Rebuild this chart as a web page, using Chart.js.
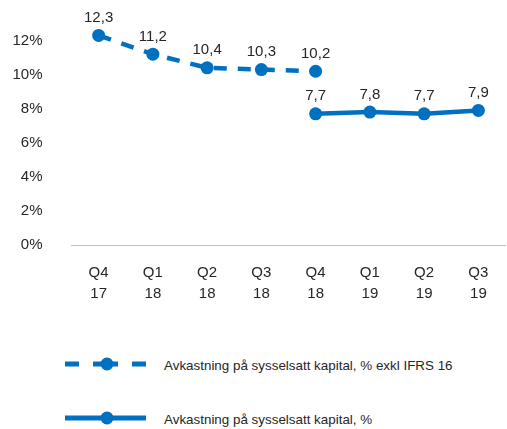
<!DOCTYPE html>
<html>
<head>
<meta charset="utf-8">
<script src="https://cdn.jsdelivr.net/npm/chart.js@4.4.0/dist/chart.umd.min.js"></script>
<style>
  html, body { margin: 0; padding: 0; background: #fff; overflow: hidden; width: 507px; height: 429px; }
  #wrap { position: relative; width: 512px; height: 320px; }
  .leg { position: absolute; left: 0; font-family: "Liberation Sans", Arial, sans-serif; font-size: 13.4px; line-height: 16px; color: #262626; }
  .leg svg { position: absolute; left: 60px; top: 0; }
  .leg span { position: absolute; left: 164px; top: 5.5px; white-space: nowrap; }
</style>
</head>
<body>
<div id="wrap"><canvas id="c" width="512" height="320"></canvas></div>
<div class="leg" style="top:352px;">
  <svg width="95" height="24"><line x1="5" y1="12" x2="86" y2="12" stroke="#0070C0" stroke-width="5" stroke-dasharray="14 14 25 14 14"/><circle cx="47" cy="12" r="6.5" fill="#0070C0"/></svg>
  <span>Avkastning på sysselsatt kapital, % exkl IFRS 16</span>
</div>
<div class="leg" style="top:406px;">
  <svg width="95" height="24"><line x1="5" y1="12" x2="86" y2="12" stroke="#0070C0" stroke-width="5"/><circle cx="47" cy="12" r="6.5" fill="#0070C0"/></svg>
  <span>Avkastning på sysselsatt kapital, %</span>
</div>
<script>
const categories = [["Q4","17"],["Q1","18"],["Q2","18"],["Q3","18"],["Q4","18"],["Q1","19"],["Q2","19"],["Q3","19"]];
const exklIfrs16 = [12.3, 11.2, 10.4, 10.3, 10.2, null, null, null];
const reported = [null, null, null, null, 7.7, 7.8, 7.7, 7.9];
const yMax = 14;
const yStep = 2;

const blue = "#0070C0";
const fontFamily = "'Liberation Sans', Arial, sans-serif";

const labelPlugin = {
  id: "valueLabels",
  afterDatasetsDraw(chart) {
    const ctx = chart.ctx;
    ctx.save();
    ctx.font = "15px " + fontFamily;
    ctx.fillStyle = "#262626";
    ctx.textAlign = "center";
    ctx.textBaseline = "middle";
    chart.data.datasets.forEach((ds, i) => {
      const meta = chart.getDatasetMeta(i);
      meta.data.forEach((pt, j) => {
        const v = ds.data[j];
        if (v === null || v === undefined) return;
        ctx.fillText(v.toFixed(1).replace(".", ","), pt.x, pt.y - 17.5);
      });
    });
    ctx.restore();
  }
};

new Chart(document.getElementById("c"), {
  type: "line",
  data: {
    labels: categories,
    datasets: [
      {
        label: "Avkastning på sysselsatt kapital, % exkl IFRS 16",
        data: exklIfrs16,
        borderColor: blue,
        backgroundColor: blue,
        borderWidth: 4.5,
        borderDash: [13, 11],
        pointRadius: 6.5,
        pointHoverRadius: 6.5,
        pointBackgroundColor: blue,
        pointBorderWidth: 0,
        tension: 0,
        spanGaps: false
      },
      {
        label: "Avkastning på sysselsatt kapital, %",
        data: reported,
        borderColor: blue,
        backgroundColor: blue,
        borderWidth: 4.5,
        pointRadius: 6.5,
        pointHoverRadius: 6.5,
        pointBackgroundColor: blue,
        pointBorderWidth: 0,
        tension: 0,
        spanGaps: false
      }
    ]
  },
  options: {
    responsive: false,
    animation: false,
    devicePixelRatio: 1,
    layout: { padding: { top: 5, left: 0, right: 0, bottom: 0 } },
    plugins: { legend: { display: false }, tooltip: { enabled: false } },
    scales: {
      x: {
        offset: true,
        grid: { display: false, drawTicks: false },
        border: { display: true, color: "#bfbfbf", width: 1 },
        ticks: { font: { family: fontFamily, size: 15, lineHeight: 1.4 }, color: "#262626", padding: 17.5, maxRotation: 0, autoSkip: false },
        afterFit(s) { s.height = 75; s.paddingLeft = 0; s.paddingRight = 0; }
      },
      y: {
        min: 0,
        max: yMax,
        grid: { display: false, drawTicks: false },
        border: { display: false },
        ticks: {
          stepSize: yStep,
          font: { family: fontFamily, size: 15 },
          color: "#262626",
          padding: 29,
          callback: v => (v >= yMax ? "" : v + "%")
        },
        afterFit(s) { s.width = 71.5; s.paddingTop = 0; s.paddingBottom = 0; }
      }
    }
  },
  plugins: [labelPlugin]
});
</script>
</body>
</html>
